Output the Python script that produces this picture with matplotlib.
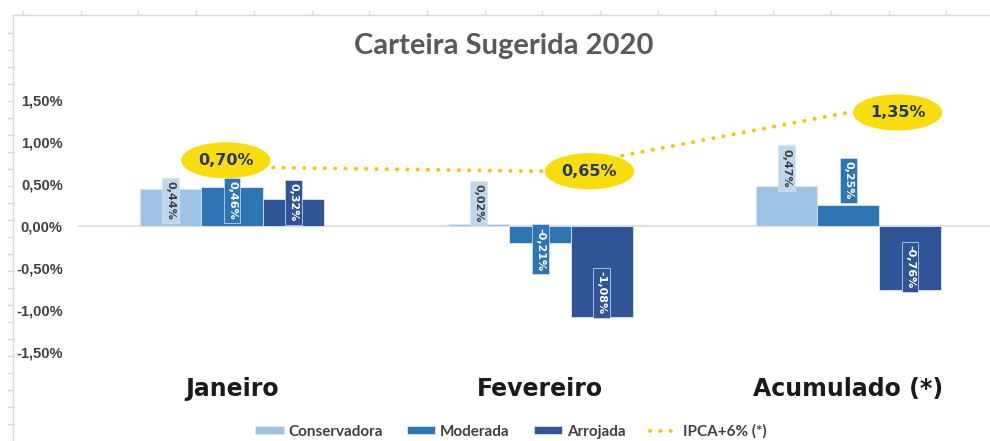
import numpy as np
import matplotlib.pyplot as plt
from matplotlib.lines import Line2D
from matplotlib.patches import Ellipse

# data (percent)
categories = ['Janeiro', 'Fevereiro', 'Acumulado (*)']
conservadora = [0.44, 0.02, 0.47]
moderada = [0.46, -0.21, 0.25]
arrojada = [0.32, -1.08, -0.76]
ipca = [0.70, 0.65, 1.35]
series_names = ['Conservadora', 'Moderada', 'Arrojada']
ipca_name = 'IPCA+6% (*)'

colors = ['#9DC3E6', '#2E75B6', '#2F5597']
box_colors = ['#BDD7EE', '#2E75B6', '#2F5597']
text_colors = ['#404040', 'white', 'white']
ipca_color = '#FFC000'


def pct(v, decimals=2):
    return f"{v:.{decimals}f}".replace('.', ',') + '%'


plt.rcParams['font.family'] = ['Liberation Sans', 'DejaVu Sans']

fig = plt.figure(figsize=(9.9, 4.41), dpi=100)
ax = fig.add_axes([0.0788, 0.184, 0.9212, 0.68])

x = np.arange(len(categories))
width = 0.2
all_series = [conservadora, moderada, arrojada]

# where the rotated value labels sit (data units), roughly like the Excel original
label_y = [[0.30, 0.27, 0.69],
           [0.30, -0.28, 0.54],
           [0.28, -0.80, -0.49]]

for i, (vals, name) in enumerate(zip(all_series, series_names)):
    pos = x + (i - 1) * width
    ax.bar(pos, vals, width, color=colors[i], edgecolor='#DDE7F3',
           linewidth=0.6, label=name, zorder=2)
    for j, v in enumerate(vals):
        ax.text(pos[j], label_y[i][j], pct(v), rotation=270,
                ha='center', va='center', fontsize=8, fontweight='bold',
                family=['DejaVu Sans'], color=text_colors[i], zorder=4,
                bbox=dict(boxstyle='square,pad=0.3', facecolor=box_colors[i],
                          edgecolor='#D6E3F2', linewidth=0.5))

ax.axhline(0, color='#D9D9D9', linewidth=1.2, zorder=1)

ax.plot(x, ipca, linestyle=(0, (0.05, 2.6)), color=ipca_color, linewidth=2.8,
        dash_capstyle='round', label=ipca_name, zorder=3)

# yellow bubbles with the IPCA values
bubble_dx = [-0.02, 0.16, 0.16]
bubble_dy = [0.08, 0.0, 0.0]
for j, v in enumerate(ipca):
    cx, cy = x[j] + bubble_dx[j], v + bubble_dy[j]
    ax.add_patch(Ellipse((cx, cy), 0.29, 0.43, facecolor='#F9DC0C',
                         edgecolor='none', zorder=5))
    ax.text(cx, cy, pct(v), ha='center', va='center', fontsize=11.5,
            fontweight='bold', family=['DejaVu Sans'], color='#203864', zorder=6)

ax.set_xlim(-0.5, 2.46)
ax.set_ylim(-1.596, 1.975)
ticks = [1.5, 1.0, 0.5, 0.0, -0.5, -1.0, -1.5]
ax.set_yticks(ticks)
ax.set_yticklabels([pct(t) for t in ticks], fontsize=10.5, fontweight='bold',
                   color='#404040')
ax.set_xticks(x)
ax.set_xticklabels(categories, fontsize=17, fontweight='bold',
                   family=['DejaVu Sans'], color='#1A1A1A')
ax.tick_params(axis='both', length=0)
ax.tick_params(axis='x', pad=12)
ax.tick_params(axis='y', pad=11)
for s in ax.spines.values():
    s.set_visible(False)

fig.text(0.509, 0.895, 'Carteira Sugerida 2020', ha='center', va='center',
         fontsize=21, fontweight='bold', family=['Lato', 'DejaVu Sans'],
         color='#595959')

handles, labels = ax.get_legend_handles_labels()
order = [1, 2, 3, 0]
leg = fig.legend([handles[k] for k in order], [labels[k] for k in order],
                 loc='center', bbox_to_anchor=(0.516, 0.022), ncol=4,
                 frameon=False, handlelength=1.85, handleheight=0.5,
                 columnspacing=1.6, handletextpad=0.3,
                 prop={'family': ['Lato', 'DejaVu Sans'], 'size': 11,
                       'weight': 'bold'})
for t in leg.get_texts():
    t.set_color('#404040')

# faint worksheet edge lines visible in the screenshot
W, H = 990, 441
fig.add_artist(Line2D([13 / W, 13 / W], [0, 1 - 15 / H], color='#D9D9D9', lw=1))
fig.add_artist(Line2D([13 / W, 1], [1 - 15 / H, 1 - 15 / H], color='#D9D9D9', lw=1))
for yy in range(33, 441, 17):
    fig.add_artist(Line2D([8 / W, 13 / W], [1 - yy / H, 1 - yy / H], color='#D9D9D9', lw=1))
for xx in np.arange(23, 990, 57.7):
    fig.add_artist(Line2D([xx / W, xx / W], [1 - 15 / H, 1 - 11 / H], color='#D9D9D9', lw=1))

plt.savefig('out.png', dpi=100)
